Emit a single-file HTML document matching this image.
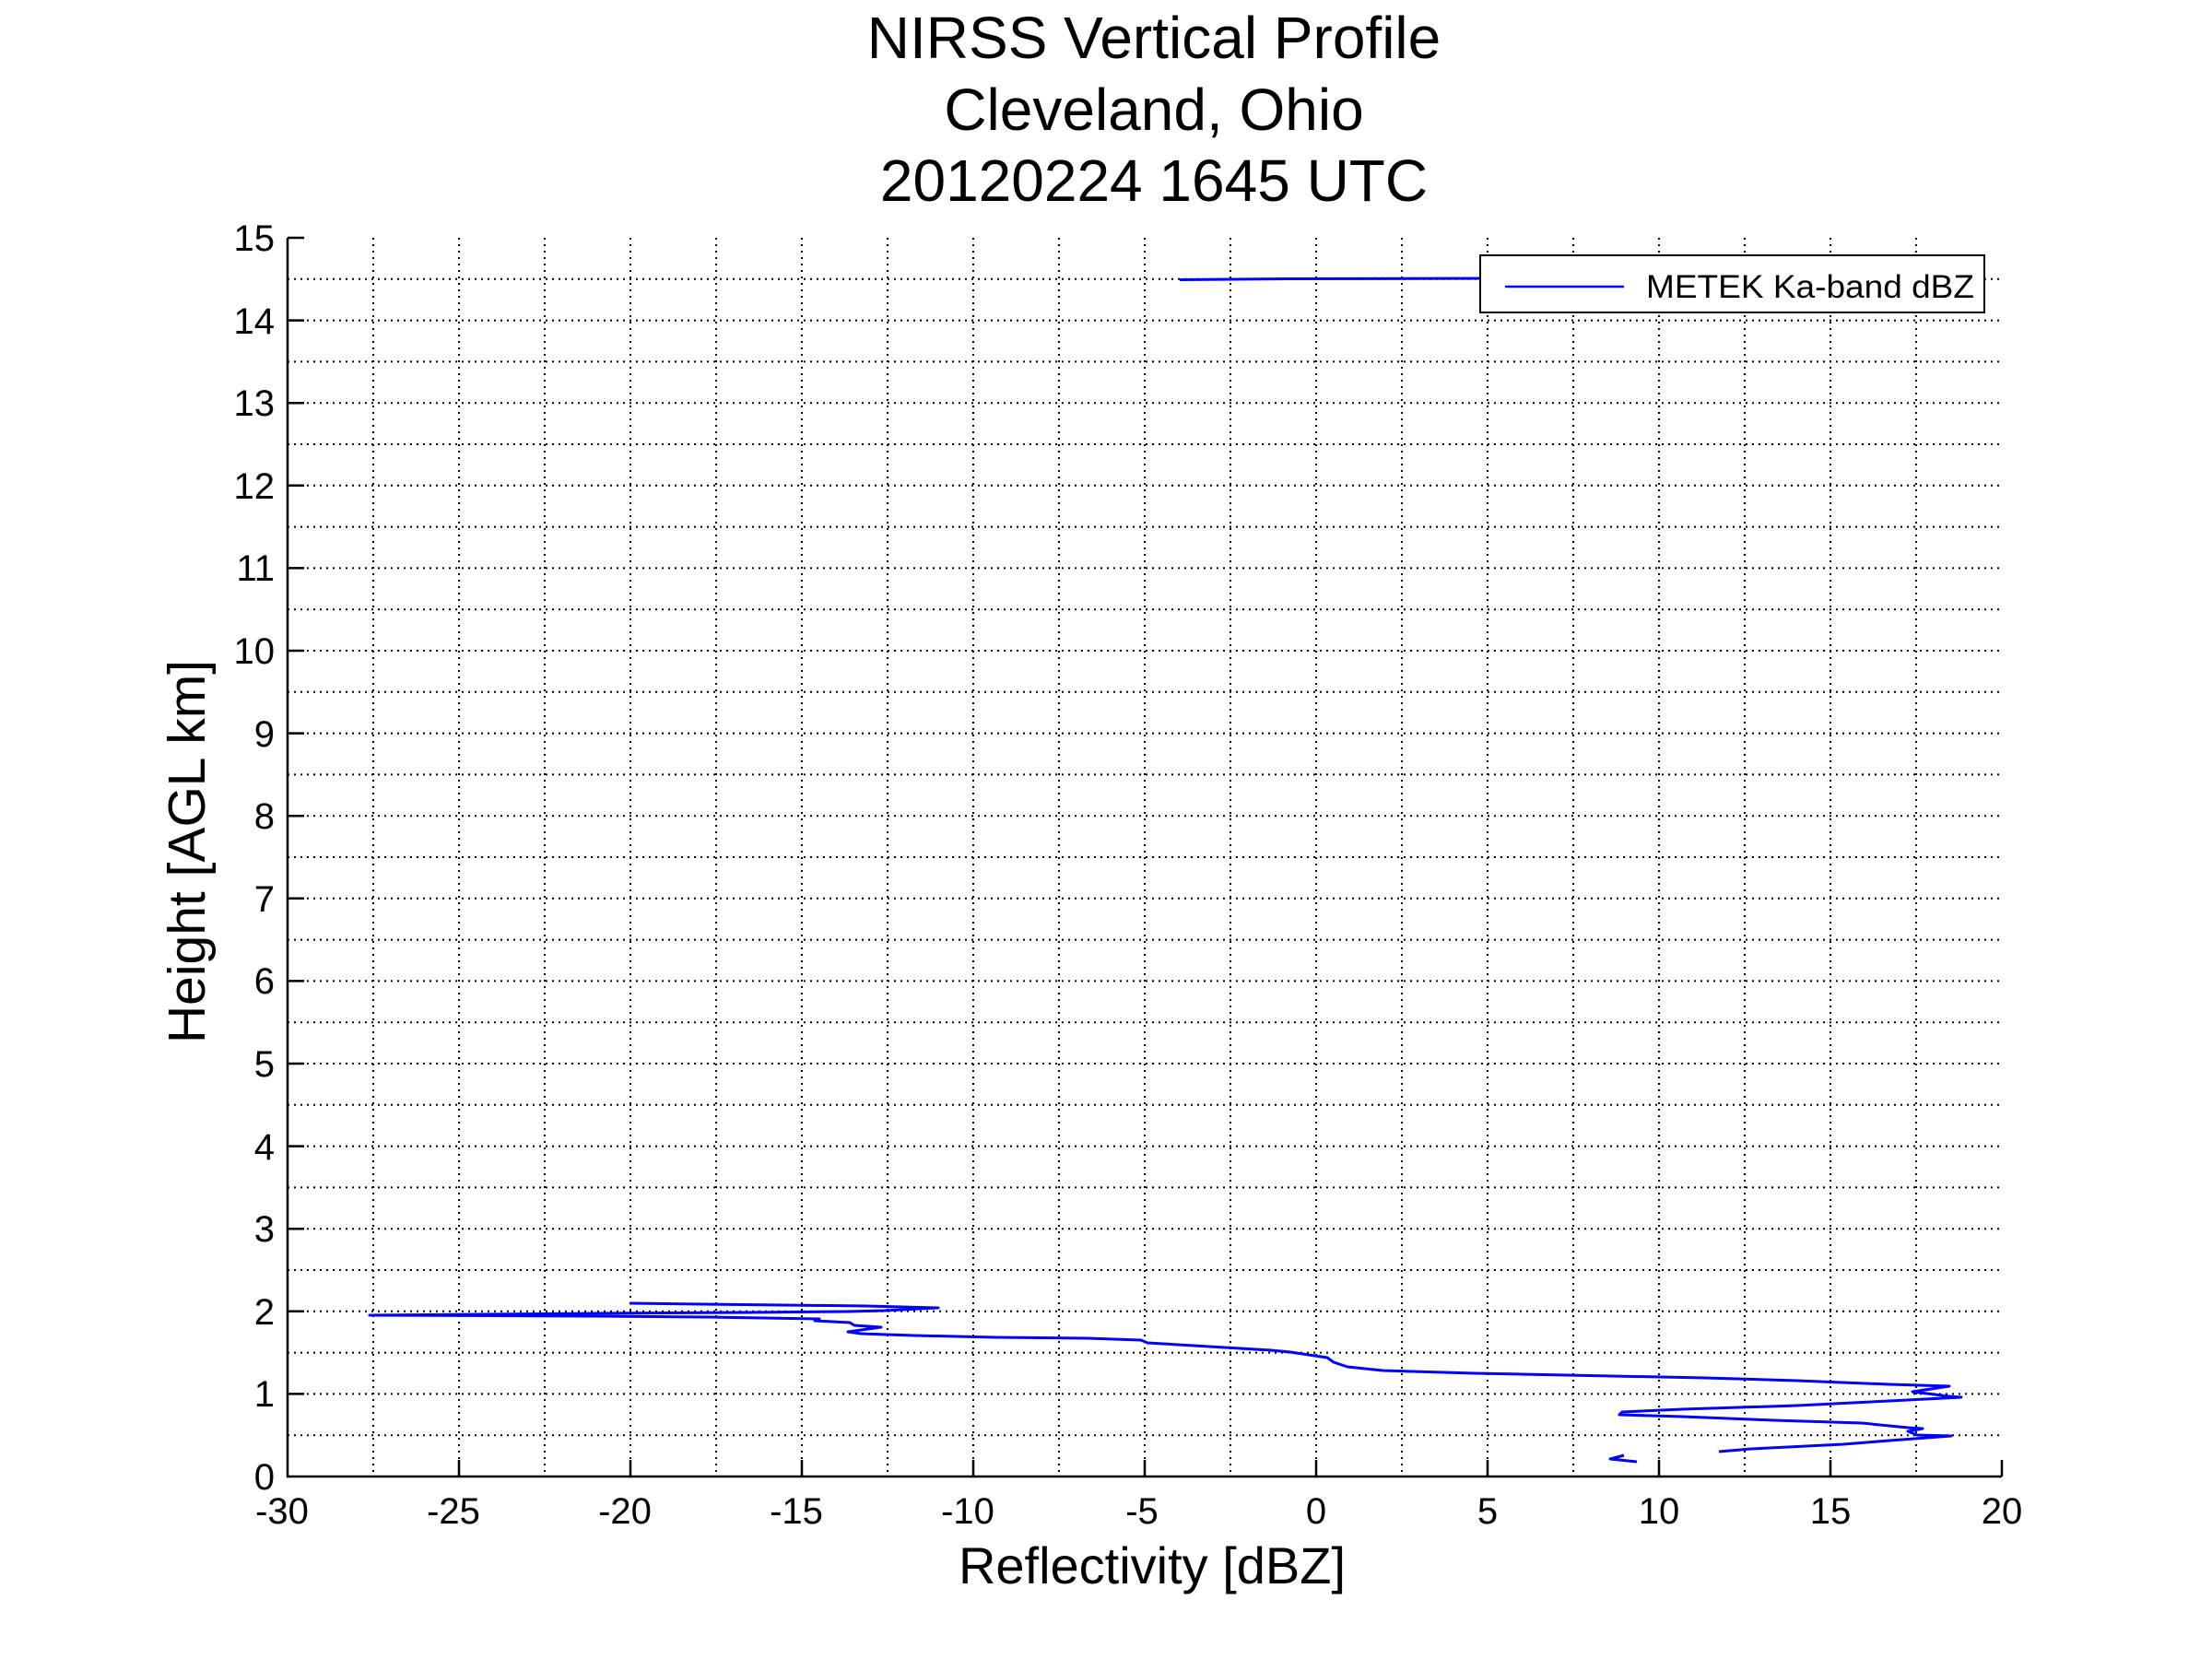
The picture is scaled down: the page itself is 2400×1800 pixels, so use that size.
<!DOCTYPE html>
<html><head><meta charset="utf-8"><style>html,body{margin:0;padding:0;background:#fff}svg{display:block}</style></head>
<body>
<svg width="2400" height="1800" viewBox="0 0 2400 1800" xmlns="http://www.w3.org/2000/svg" font-family="Liberation Sans, sans-serif">
<rect width="2400" height="1800" fill="#fff"/>
<g stroke="#000" stroke-width="2" stroke-dasharray="2 5" fill="none">
<path d="M405,258V1602M498,258V1602M591,258V1602M684,258V1602M777,258V1602M870,258V1602M963,258V1602M1056,258V1602M1149,258V1602M1242,258V1602M1335,258V1602M1428,258V1602M1521,258V1602M1614,258V1602M1707,258V1602M1800,258V1602M1893,258V1602M1986,258V1602M2079,258V1602"/>
<path d="M312,1557.2H2172M312,1512.4H2172M312,1467.6H2172M312,1422.8H2172M312,1378H2172M312,1333.2H2172M312,1288.4H2172M312,1243.6H2172M312,1198.8H2172M312,1154H2172M312,1109.2H2172M312,1064.4H2172M312,1019.6H2172M312,974.8H2172M312,930H2172M312,885.2H2172M312,840.4H2172M312,795.6H2172M312,750.8H2172M312,706H2172M312,661.2H2172M312,616.4H2172M312,571.6H2172M312,526.8H2172M312,482H2172M312,437.2H2172M312,392.4H2172M312,347.6H2172M312,302.8H2172"/>
</g>
<g fill="none" stroke="#0000ff" stroke-width="3" stroke-linejoin="round">
<path d="M683,1414 L760,1415 L850,1416 L940,1417 L1018,1419 L960,1422 L920,1423 L811,1424 L648,1425 L401,1427 L648,1428 L768,1429 L889,1431 L884,1433 L922,1435 L927,1438 L956,1440 L920,1445 L934,1447 L992,1449 L1080,1451 L1180,1452 L1238,1454 L1245,1457 L1379,1465 L1400,1467 L1440,1473 L1447,1478 L1462,1483 L1500,1487 L1600,1490 L1700,1492 L1850,1495 L1950,1498 L2050,1502 L2115,1504 L2075,1510 L2115,1515 L2128,1516 L2050,1520 L1950,1525 L1825,1529 L1760,1532 L1757,1535 L1825,1537 L1925,1541 L2020,1544 L2070,1549 L2086,1550 L2070,1553 L2080,1557 L2117,1558 L2050,1563 L2000,1567 L1900,1572 L1865,1575"/>
<path d="M1762,1579 L1747,1583 L1776,1586"/>
<path d="M1280,303.5 L1400,302.5 L1620,302"/>
</g>
<g stroke="#000" stroke-width="2.5" fill="none">
<path d="M312,258V1602H2172"/>
<path d="M312,258h18M312,347.6h18M312,437.2h18M312,526.8h18M312,616.4h18M312,706h18M312,795.6h18M312,885.2h18M312,974.8h18M312,1064.4h18M312,1154h18M312,1243.6h18M312,1333.2h18M312,1422.8h18M312,1512.4h18"/>
<path d="M498,1602v-18M684,1602v-18M870,1602v-18M1056,1602v-18M1242,1602v-18M1428,1602v-18M1614,1602v-18M1800,1602v-18M1986,1602v-18M2172,1602v-18"/>
</g>
<g font-size="40" fill="#000" text-anchor="end">
<text x="298" y="272">15</text><text x="298" y="362">14</text><text x="298" y="451">13</text><text x="298" y="541">12</text><text x="298" y="630">11</text><text x="298" y="720">10</text><text x="298" y="810">9</text><text x="298" y="899">8</text><text x="298" y="989">7</text><text x="298" y="1078">6</text><text x="298" y="1168">5</text><text x="298" y="1258">4</text><text x="298" y="1347">3</text><text x="298" y="1437">2</text><text x="298" y="1526">1</text><text x="298" y="1616">0</text>
</g>
<g font-size="40" fill="#000" text-anchor="middle">
<text x="306" y="1653">-30</text><text x="492" y="1653">-25</text><text x="678" y="1653">-20</text><text x="864" y="1653">-15</text><text x="1050" y="1653">-10</text><text x="1239" y="1653">-5</text><text x="1428" y="1653">0</text><text x="1614" y="1653">5</text><text x="1800" y="1653">10</text><text x="1986" y="1653">15</text><text x="2172" y="1653">20</text>
</g>
<text x="1250" y="1718" font-size="56" text-anchor="middle">Reflectivity [dBZ]</text>
<text transform="translate(222,924) rotate(-90)" font-size="57" text-anchor="middle">Height [AGL km]</text>
<g font-size="64" text-anchor="middle">
<text x="1252" y="63">NIRSS Vertical Profile</text>
<text x="1252" y="141">Cleveland, Ohio</text>
<text x="1252" y="218">20120224 1645 UTC</text>
</g>
<rect x="1606" y="277" width="547" height="62" fill="#fff" stroke="#000" stroke-width="2"/>
<line x1="1633" y1="311" x2="1762" y2="311" stroke="#0000ff" stroke-width="2.5"/>
<text x="1786" y="323" font-size="35" textLength="356" lengthAdjust="spacingAndGlyphs">METEK Ka-band dBZ</text>
</svg>
</body></html>
